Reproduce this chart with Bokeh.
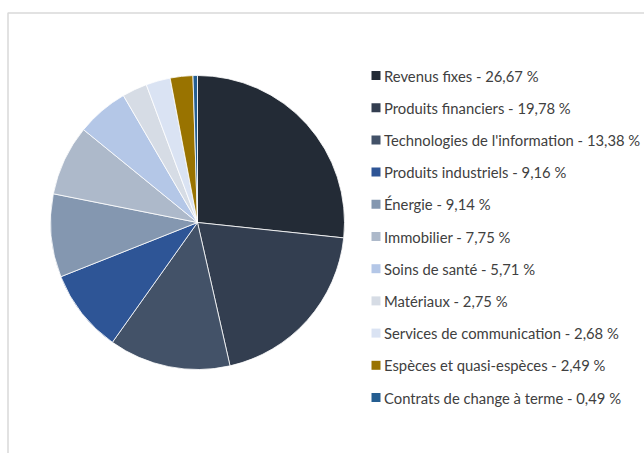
import math
from bokeh.plotting import figure
from bokeh.models import Range1d, ColumnDataSource
from bokeh.core.properties import value
from bokeh.embed import file_html
from bokeh.resources import INLINE

categories = ["Revenus fixes", "Produits financiers", "Technologies de l'information",
              "Produits industriels", "Énergie", "Immobilier", "Soins de santé",
              "Matériaux", "Services de communication", "Espèces et quasi-espèces",
              "Contrats de change à terme"]
values = [26.67, 19.78, 13.38, 9.16, 9.14, 7.75, 5.71, 2.75, 2.68, 2.49, 0.49]
colors = ["#232b36", "#333e50", "#435268", "#2e5596", "#8497b0", "#adb9ca",
          "#b4c7e7", "#d6dce5", "#dae3f3", "#997300", "#255e91"]

W, H = 644, 453
p = figure(width=W, height=H, output_backend="svg", toolbar_location=None,
           x_range=Range1d(0, W), y_range=Range1d(0, H), min_border=0)
p.axis.visible = False
p.grid.visible = False
p.outline_line_color = None
p.background_fill_color = "white"

# frame border
p.quad(left=[7.5], right=[W + 10], top=[H - 12.5], bottom=[-10],
       fill_color=None, line_color="#d9d9d9", line_width=1.5)

total = sum(values)
starts, ends = [], []
cum = 0.0
for v in values:
    a0 = math.pi / 2 - (cum + v) / total * 2 * math.pi
    a1 = math.pi / 2 - cum / total * 2 * math.pi
    starts.append(a0)
    ends.append(a1)
    cum += v

cx, cy, r = 197, H - 222, 147
src = ColumnDataSource(dict(start=starts, end=ends, color=colors))
p.wedge(x=cx, y=cy, radius=r, radius_units="screen", start_angle="start",
        end_angle="end", fill_color="color", line_color="white", line_width=0.8,
        source=src)

# legend
labels = [f"{c} - {str(f'{v:.2f}').replace('.', ',')} %" for c, v in zip(categories, values)]
ys = [H - (75 + i * 32.2) for i in range(len(categories))]
p.rect(x=[375.5] * len(ys), y=ys, width=9, height=9, width_units="screen",
       height_units="screen", fill_color=colors, line_color=None)
p.text(x=[383.5] * len(ys), y=ys, text=labels, text_font=value("Lato"),
       text_font_size="14.8px", text_baseline="middle", text_color="#404040")

open("out.html", "w").write(file_html(p, INLINE))
